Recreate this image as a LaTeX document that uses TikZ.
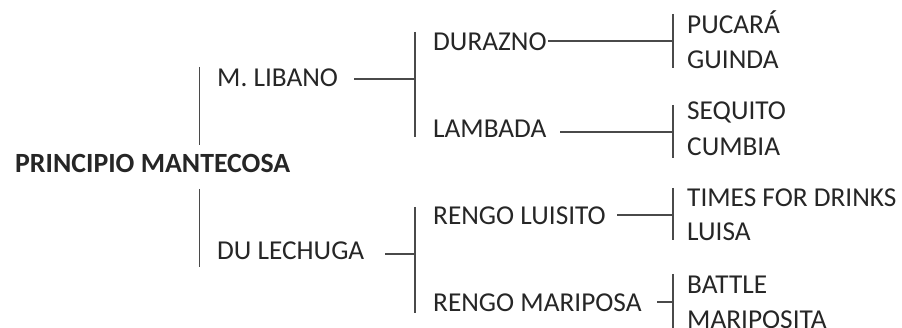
\documentclass[tikz,border=0pt]{standalone}
\usepackage{fontspec}
\setmainfont{Carlito}
\definecolor{ink}{HTML}{262626}
\definecolor{rule}{HTML}{4A4A4A}
\begin{document}
\begin{tikzpicture}[x=1pt,y=-1pt,
  lbl/.style={anchor=base west,inner sep=0pt,text=ink,font=\fontsize{27.3}{27.3}\selectfont},
  rootlbl/.style={lbl,font=\fontsize{27.8}{27.8}\selectfont\bfseries},
  ln/.style={draw=rule,line width=1.15pt}]
\useasboundingbox (0,0) rectangle (902,328);
% texts
\node[rootlbl] (root) at (15,173) {PRINCIPIO MANTECOSA};
\node[lbl] (lib) at (217,87) {M. LIBANO};
\node[lbl] (lec) at (217,260) {DU LECHUGA};
\node[lbl] (dur) at (433,51) {DURAZNO};
\node[lbl] (lam) at (433,138) {LAMBADA};
\node[lbl] (rlu) at (433,225) {RENGO LUISITO};
\node[lbl] (rma) at (433,312) {RENGO MARIPOSA};
\node[lbl] (puc) at (687,34) {PUCARÁ};
\node[lbl] (gui) at (687,69) {GUINDA};
\node[lbl] (seq) at (687,120) {SEQUITO};
\node[lbl] (cum) at (687,156) {CUMBIA};
\node[lbl] (tim) at (687,207) {TIMES FOR DRINKS};
\node[lbl] (lui) at (687,241) {LUISA};
\node[lbl] (bat) at (687,294) {BATTLE};
\node[lbl] (mar) at (687,329) {MARIPOSITA};
% bracket coordinates
\coordinate (b1t) at (199.5,67);  \coordinate (b1b) at (199.5,145);
\coordinate (b2t) at (199.5,189); \coordinate (b2b) at (199.5,267);
\coordinate (libE) at (354,79);   \coordinate (libB) at (415,79);
\coordinate (lecE) at (385,254);  \coordinate (lecB) at (415,254);
\coordinate (b3t) at (415,32);    \coordinate (b3b) at (415,137);
\coordinate (b4t) at (415,207);   \coordinate (b4b) at (415,313);
\coordinate (durE) at (548,41);   \coordinate (durB) at (673,41);
\coordinate (lamE) at (560,132);  \coordinate (lamB) at (673,132);
\coordinate (rluE) at (617,215);  \coordinate (rluB) at (673,215);
\coordinate (rmaE) at (657,302);  \coordinate (rmaB) at (673,302);
\coordinate (b5t) at (673,14);    \coordinate (b5b) at (673,68);
\coordinate (b6t) at (673,105);   \coordinate (b6b) at (673,158);
\coordinate (b7t) at (673,188);   \coordinate (b7b) at (673,240);
\coordinate (b8t) at (673,274);   \coordinate (b8b) at (673,332);
% connectors
\draw[ln] (b1t) -- (b1b);
\draw[ln] (b2t) -- (b2b);
\draw[ln] (libE) -- (libB);
\draw[ln] (lecE) -- (lecB);
\draw[ln] (b3t) -- (b3b);
\draw[ln] (b4t) -- (b4b);
\draw[ln] (durE) -- (durB);
\draw[ln] (lamE) -- (lamB);
\draw[ln] (rluE) -- (rluB);
\draw[ln] (rmaE) -- (rmaB);
\draw[ln] (b5t) -- (b5b);
\draw[ln] (b6t) -- (b6b);
\draw[ln] (b7t) -- (b7b);
\draw[ln] (b8t) -- (b8b);
\end{tikzpicture}
\end{document}
